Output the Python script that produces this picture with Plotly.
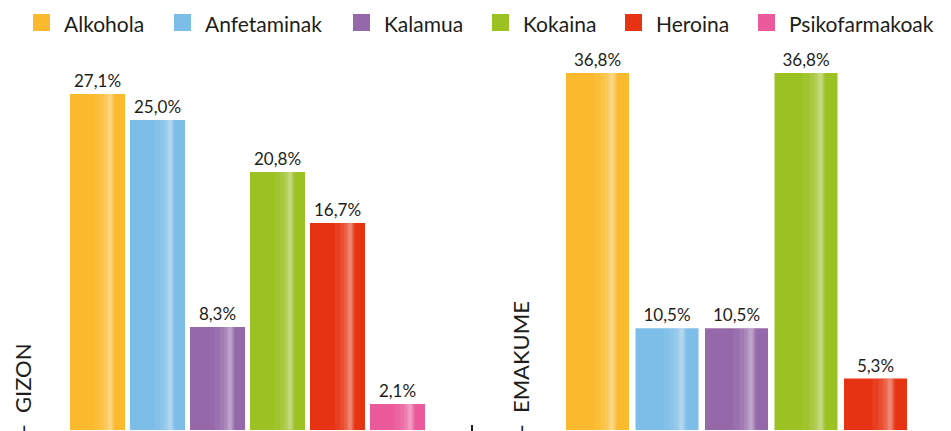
import plotly.graph_objects as go

# ---- data ----
categories_gizon = ["Alkohola", "Anfetaminak", "Kalamua", "Kokaina", "Heroina", "Psikofarmakoak"]
values_gizon = [27.1, 25.0, 8.3, 20.8, 16.7, 2.1]
categories_emakume = ["Alkohola", "Anfetaminak", "Kalamua", "Kokaina", "Heroina"]
values_emakume = [36.8, 10.5, 10.5, 36.8, 5.3]
legend_labels = ["Alkohola", "Anfetaminak", "Kalamua", "Kokaina", "Heroina", "Psikofarmakoak"]
panel_labels = ["-\u00a0\u00a0GIZON", "-\u00a0\u00a0EMAKUME"]

# ---- style ----
COLORS = {
    "Alkohola": "#FBBA2D",
    "Anfetaminak": "#7DBEE8",
    "Kalamua": "#9568A9",
    "Kokaina": "#9BC123",
    "Heroina": "#E63312",
    "Psikofarmakoak": "#EB5B9C",
}
W, H = 951, 431
FONT = "Lato"
TXT = "#1d1d1b"
# glossy stripe layers: (start, end) as fraction of bar width, white alpha
GLOSS = [(0.45, 0.82, 0.06), (0.55, 0.80, 0.08), (0.62, 0.785, 0.10),
         (0.67, 0.77, 0.12), (0.70, 0.755, 0.14)]


def fx(px):
    return px / W


def fy(py):
    return 1 - py / H


fig = go.Figure()


def add_panel(cats, vals, xa, ya, bar_w):
    cols = [COLORS[c] for c in cats]
    fig.add_trace(go.Bar(
        x=cats, y=vals, xaxis=xa, yaxis=ya, width=bar_w,
        marker=dict(color=cols, line=dict(width=0)),
        texttemplate="%{y:.1f}%", textposition="outside", cliponaxis=False,
        textfont=dict(family=FONT, size=17, color=TXT),
        showlegend=False, hoverinfo="x+y",
    ))
    for s, e, alpha in GLOSS:
        fig.add_trace(go.Bar(
            x=cats, y=vals, xaxis=xa, yaxis=ya, width=(e - s) * bar_w,
            offset=-bar_w / 2 + s * bar_w,
            marker=dict(color=f"rgba(255,255,255,{alpha})", line=dict(width=0)),
            showlegend=False, hoverinfo="skip",
        ))


add_panel(categories_gizon, values_gizon, "x", "y", 55 / 60)
add_panel(categories_emakume, values_emakume, "x2", "y2", 63 / 69.5)

axis_common = dict(showgrid=False, zeroline=False, showticklabels=False,
                   ticks="", showline=False, fixedrange=True)

shapes = []
annotations = []

# manual legend
sq_left = [33, 174, 353, 492, 625, 758]
for name, x0 in zip(legend_labels, sq_left):
    shapes.append(dict(type="rect", xref="paper", yref="paper",
                       x0=fx(x0), x1=fx(x0 + 17), y0=fy(31), y1=fy(14),
                       fillcolor=COLORS[name], line=dict(width=0)))
    annotations.append(dict(xref="paper", yref="paper", x=fx(x0 + 29), y=fy(23),
                            xanchor="left", yanchor="middle", showarrow=False,
                            text=name, font=dict(family=FONT, size=21, color=TXT)))

# rotated panel labels (flush with the bottom edge)
for label, xc in zip(panel_labels, [22, 520]):
    annotations.append(dict(xref="paper", yref="paper", x=fx(xc), y=fy(434),
                            xanchor="center", yanchor="bottom", showarrow=False,
                            textangle=-90, text=label, borderpad=0,
                            font=dict(family=FONT, size=22, color=TXT)))

# small tick fragment near the bottom
shapes.append(dict(type="line", xref="paper", yref="paper",
                   x0=fx(472), x1=fx(472), y0=fy(431), y1=fy(425),
                   line=dict(color=TXT, width=2)))

fig.update_layout(
    width=W, height=H,
    margin=dict(l=0, r=0, t=0, b=0),
    paper_bgcolor="white", plot_bgcolor="white",
    barmode="overlay",
    separators=",.",
    showlegend=False,
    xaxis=dict(domain=[fx(67.5), fx(427.5)], range=[-0.5, 5.5], **axis_common),
    yaxis=dict(domain=[fy(430), fy(60)], range=[0, 370 / 12.4], **axis_common),
    xaxis2=dict(domain=[fx(562.75), fx(910.25)], range=[-0.5, 4.5], anchor="y2", **axis_common),
    yaxis2=dict(domain=[fy(430), fy(60)], range=[0, 370 / 9.70], anchor="x2", **axis_common),
    shapes=shapes,
    annotations=annotations,
    font=dict(family=FONT, color=TXT),
)

fig.write_html(
    "out.html",
    config={"displayModeBar": False},
    post_script="document.body.style.margin='0px';document.body.style.overflow='hidden';",
)
